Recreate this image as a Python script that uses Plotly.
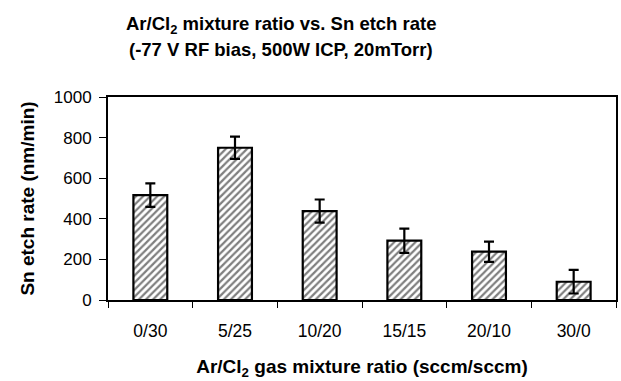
import plotly.graph_objects as go

categories = ["0/30", "5/25", "10/20", "15/15", "20/10", "30/0"]
etch_rate = [517, 750, 438, 292, 238, 90]
etch_err = [58, 55, 57, 60, 50, 58]
y_ticks = [0, 200, 400, 600, 800, 1000]
title_lines = ["Ar/Cl<sub>2</sub> mixture ratio vs. Sn etch rate",
               "(-77 V RF bias, 500W ICP, 20mTorr)"]

FONT = "Liberation Sans, Arial, sans-serif"
L, R, T, B, W, H = 108, 3, 97, 81, 621, 381
PH = H - T - B
PW = W - L - R

fig = go.Figure()
fig.add_trace(go.Bar(
    x=categories, y=etch_rate, width=0.4,
    marker=dict(color="white",
                line=dict(color="black", width=2.2),
                pattern=dict(shape="/", fgcolor="black", bgcolor="white", size=5, solidity=0.45)),
    error_y=dict(type="data", array=etch_err, visible=True, color="black", thickness=2.2, width=5),
))

for txt, ypx in zip(title_lines, [25, 50]):
    fig.add_annotation(text=txt, xref="paper", yref="paper",
                       x=(282 - L) / PW, y=(H - B - ypx) / PH,
                       xanchor="center", yanchor="middle", showarrow=False,
                       font=dict(size=18.5, family=FONT, weight="bold", color="black"))

fig.update_layout(
    width=W, height=H,
    margin=dict(l=L, r=R, t=T, b=B),
    paper_bgcolor="white", plot_bgcolor="white",
    showlegend=False,
    font=dict(family=FONT, color="black"),
    xaxis=dict(
        showline=True, linecolor="black", linewidth=2, mirror=True,
        ticks="outside", tickson="boundaries", ticklen=6, tickcolor="black", tickwidth=1,
        tickfont=dict(size=17.5), ticklabelstandoff=14,
        title=dict(text="Ar/Cl<sub>2</sub> gas mixture ratio (sccm/sccm)",
                   font=dict(size=19, weight="bold"), standoff=20),
        showgrid=False,
    ),
    yaxis=dict(
        range=[0, 1000], tickvals=y_ticks,
        showline=True, linecolor="black", linewidth=2, mirror=True,
        ticks="outside", ticklen=7, tickcolor="black", tickwidth=1,
        tickfont=dict(size=17), ticklabelstandoff=4,
        title=dict(text="Sn etch rate (nm/min)", font=dict(size=19, weight="bold"), standoff=14),
        showgrid=False, zeroline=False,
    ),
)

fig.write_html("out.html")
